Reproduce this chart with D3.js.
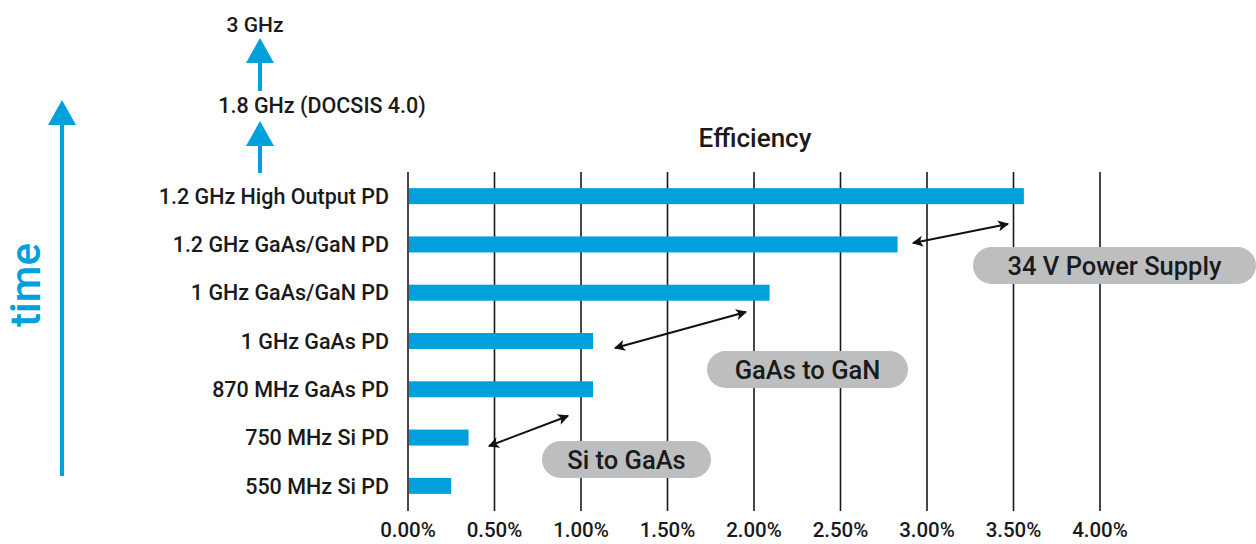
<!DOCTYPE html>
<html lang="en">
<head>
<meta charset="UTF-8">
<title>Efficiency</title>
<script src="https://d3js.org/d3.v7.min.js"></script>
<style>
  body { margin: 0; background: #fff; }
  text { font-family: Roboto, "Open Sans", sans-serif; fill: #1a1a1a; }
</style>
</head>
<body>
<div id="chart"></div>
<script>
// data
const categories = [
  "1.2 GHz High Output PD",
  "1.2 GHz GaAs/GaN PD",
  "1 GHz GaAs/GaN PD",
  "1 GHz GaAs PD",
  "870 MHz GaAs PD",
  "750 MHz Si PD",
  "550 MHz Si PD"
];
const efficiency = [3.56, 2.83, 2.09, 1.07, 1.07, 0.35, 0.25];
const tickValues = [0, 0.5, 1, 1.5, 2, 2.5, 3, 3.5, 4];
const futureSteps = ["1.8 GHz (DOCSIS 4.0)", "3 GHz"];
const notes = ["Si to GaAs", "GaAs to GaN", "34 V Power Supply"];

const W = 1256, H = 544;
const blue = "#00a0dc", pill = "#bdbec0";

const svg = d3.select("#chart").append("svg")
  .attr("width", W).attr("height", H);

const x = d3.scaleLinear().domain([0, 4]).range([408, 1100]);
const y = d3.scaleBand().domain(categories).range([172, 510]);

// arrow markers
const defs = svg.append("defs");
defs.append("marker")
  .attr("id", "head").attr("viewBox", "0 0 10 10")
  .attr("refX", 9).attr("refY", 5)
  .attr("markerWidth", 13).attr("markerHeight", 11)
  .attr("markerUnits", "userSpaceOnUse")
  .attr("orient", "auto-start-reverse")
  .append("path").attr("d", "M0,0 L10,5 L0,10 L2.5,5 Z").attr("fill", "#111");

// grid lines (also the axis)
svg.append("g").selectAll("line")
  .data(tickValues).join("line")
  .attr("x1", d => x(d)).attr("x2", d => x(d))
  .attr("y1", 172).attr("y2", 511)
  .attr("stroke", "#1a1a1a").attr("stroke-width", 1.6);

// tick labels
svg.append("g").selectAll("text")
  .data(tickValues).join("text")
  .attr("x", d => x(d)).attr("y", 537)
  .attr("text-anchor", "middle")
  .attr("font-size", 20.5).attr("font-weight", 500)
  .text(d => d3.format(".2f")(d) + "%");

// bars
svg.append("g").selectAll("rect")
  .data(efficiency).join("rect")
  .attr("x", x(0) + 1)
  .attr("y", (d, i) => y(categories[i]) + y.bandwidth() / 2 - 8)
  .attr("width", d => x(d) - x(0) - 1)
  .attr("height", 16)
  .attr("fill", blue);

// category labels
svg.append("g").selectAll("text")
  .data(categories).join("text")
  .attr("x", 389)
  .attr("y", d => y(d) + y.bandwidth() / 2)
  .attr("dy", "0.36em")
  .attr("text-anchor", "end")
  .attr("font-size", 21.5).attr("font-weight", 500)
  .text(d => d);

// title
svg.append("text")
  .attr("x", 755).attr("y", 147)
  .attr("text-anchor", "middle")
  .attr("font-size", 26).attr("font-weight", 500)
  .text("Efficiency");

// time arrow
svg.append("line")
  .attr("x1", 62).attr("x2", 62).attr("y1", 476).attr("y2", 122)
  .attr("stroke", blue).attr("stroke-width", 4);
svg.append("path")
  .attr("d", "M48,125 L62,100 L76,125 Z").attr("fill", blue);
svg.append("text")
  .attr("transform", "translate(40,285) rotate(-90)")
  .attr("text-anchor", "middle")
  .attr("font-size", 42).attr("font-weight", 500)
  .style("fill", blue)
  .text("time");

// future frequency steps
const steps = [
  {tip: 121, base: 146, end: 173},
  {tip: 38, base: 63, end: 91}
];
steps.forEach(s => {
  svg.append("line")
    .attr("x1", 260).attr("x2", 260).attr("y1", s.end).attr("y2", s.base - 2)
    .attr("stroke", blue).attr("stroke-width", 4);
  svg.append("path")
    .attr("d", `M246,${s.base} L260,${s.tip} L274,${s.base} Z`).attr("fill", blue);
});
svg.append("text").attr("x", 322).attr("y", 113)
  .attr("text-anchor", "middle").attr("font-size", 21.5).attr("font-weight", 500)
  .text(futureSteps[0]);
svg.append("text").attr("x", 255).attr("y", 32)
  .attr("text-anchor", "middle").attr("font-size", 21).attr("font-weight", 500)
  .text(futureSteps[1]);

// annotations: double arrows + grey pills
const arrows = [
  [489, 446, 568, 416],
  [615, 348, 746, 312],
  [913, 243, 1008, 224]
];
svg.append("g").selectAll("line")
  .data(arrows).join("line")
  .attr("x1", d => d[0]).attr("y1", d => d[1])
  .attr("x2", d => d[2]).attr("y2", d => d[3])
  .attr("stroke", "#111").attr("stroke-width", 2)
  .attr("marker-start", "url(#head)").attr("marker-end", "url(#head)");

const pills = [
  {x: 542, y: 441, w: 169, text: notes[0]},
  {x: 707, y: 351, w: 201, text: notes[1]},
  {x: 973, y: 247, w: 283, text: notes[2]}
];
const pg = svg.append("g").selectAll("g").data(pills).join("g");
pg.append("rect")
  .attr("x", d => d.x).attr("y", d => d.y)
  .attr("width", d => d.w).attr("height", 37)
  .attr("rx", 18.5).attr("fill", pill);
pg.append("text")
  .attr("x", d => d.x + d.w / 2).attr("y", d => d.y + 18.5)
  .attr("dy", "0.36em").attr("text-anchor", "middle")
  .attr("font-size", 25.5).attr("font-weight", 500)
  .text(d => d.text);
</script>
</body>
</html>
